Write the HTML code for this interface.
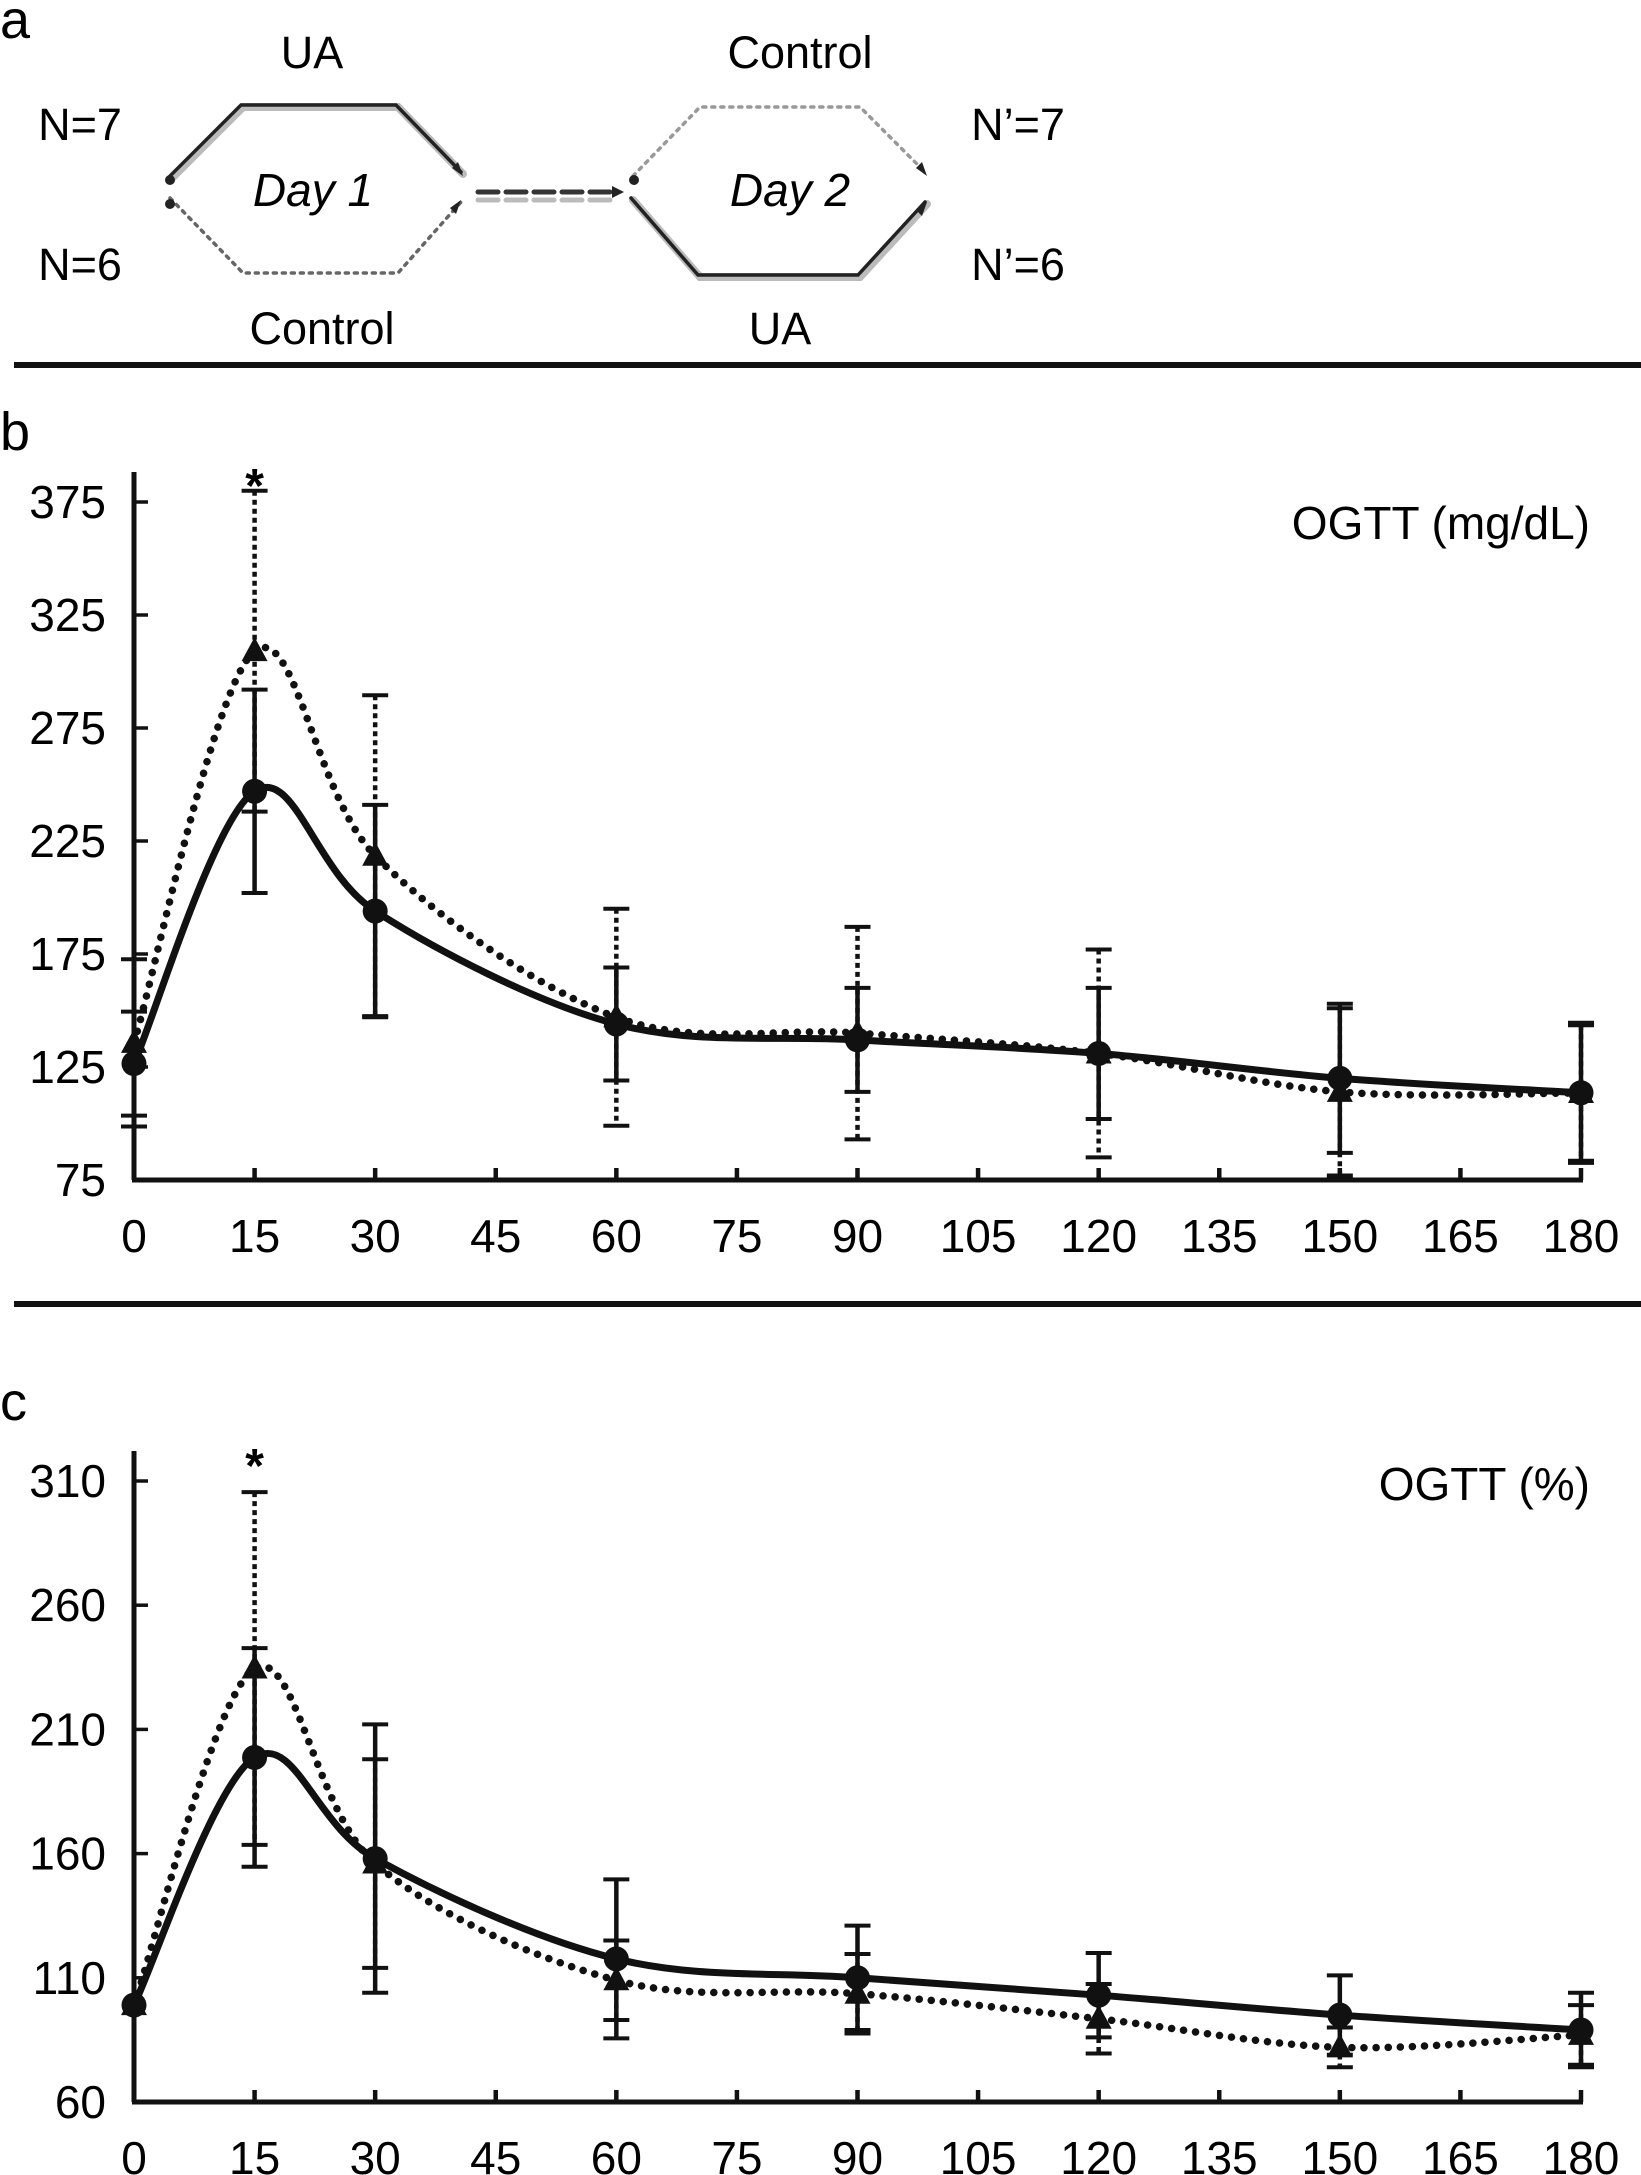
<!DOCTYPE html>
<html><head><meta charset="utf-8"><style>
body{margin:0;background:#fff;}
svg{display:block;font-family:"Liberation Sans",sans-serif;}
</style></head><body>
<svg width="1641" height="2175" viewBox="0 0 1641 2175">
<g>
<text x="0" y="38" font-size="54">a</text>
<text x="312" y="68" font-size="45" text-anchor="middle">UA</text>
<text x="800" y="68" font-size="45" text-anchor="middle">Control</text>
<text x="322" y="344" font-size="45" text-anchor="middle">Control</text>
<text x="780" y="344" font-size="45" text-anchor="middle">UA</text>
<text x="80" y="140" font-size="45" text-anchor="middle">N=7</text>
<text x="80" y="280" font-size="45" text-anchor="middle">N=6</text>
<text x="1018" y="140" font-size="45" text-anchor="middle">N’=7</text>
<text x="1018" y="280" font-size="45" text-anchor="middle">N’=6</text>
<text x="313" y="206" font-size="46" font-style="italic" text-anchor="middle">Day 1</text>
<text x="790" y="206" font-size="46" font-style="italic" text-anchor="middle">Day 2</text>
<g fill="none" stroke-linecap="round">
<polyline points="172,178 243,107 398,107 463,174" stroke="#bbb" stroke-width="8"/>
<polyline points="170,176 241,105 396,105 461,172" stroke="#222" stroke-width="3.5"/>
<polyline points="170,198 243,273 398,273 461,202" stroke="#666" stroke-width="3.5" stroke-dasharray="3 6"/>
<line x1="478" y1="192" x2="618" y2="192" stroke="#333" stroke-width="5" stroke-dasharray="20 8"/>
<line x1="478" y1="200" x2="618" y2="200" stroke="#bbb" stroke-width="5" stroke-dasharray="20 8"/>
<polyline points="633,176 700,107 860,107 927,174" stroke="#999" stroke-width="3.5" stroke-dasharray="3 6"/>
<polyline points="633,200 700,277 860,277 927,204" stroke="#bbb" stroke-width="8"/>
<polyline points="631,198 698,275 858,275 925,202" stroke="#222" stroke-width="3.5"/>
</g>
<g fill="#222">
<polygon points="463,176 452,168 458,162"/>
<polygon points="461,200 450,208 456,214"/>
<polygon points="624,192 612,186 612,198"/>
<polygon points="927,176 916,168 922,162"/>
<polygon points="927,202 916,210 922,216"/>
<circle cx="170" cy="180" r="5"/>
<circle cx="170" cy="204" r="5"/>
<circle cx="634" cy="180" r="5"/>
</g>
</g>
<rect x="14" y="362" width="1627" height="6" fill="#111"/>
<rect x="14" y="1301" width="1627" height="6" fill="#111"/>
<text x="0" y="450" font-size="54">b</text>
<text x="0" y="1420" font-size="54">c</text>
<g id="chartB"></g>
<g id="chartC"></g>
</svg>
<script>
const times = [0,15,30,60,90,120,150,180];
const xTicks = [0,15,30,45,60,75,90,105,120,135,150,165,180];
const bYTicks = [75,125,175,225,275,325,375];
const bSolid = [126.5,247,194,144,137,131,120,113.6];
const bSolidErr = [23,45,47,25,23,29,33,31];
const bDotted = [135.7,309,218.5,147,140,131,114,113.5];
const bDottedErr = [37,71,71,48,47,46,37,30];
const cYTicks = [60,110,160,210,260,310];
const cSolid = [99,198.7,158,117.6,110,103,95,89];
const cSolidErr = [0,44,54,32,21,17,16,15];
const cDotted = [99,234.5,156,109,103.6,93.5,82,87];
const cDottedErr = [0,71,42,16,16,14,8,12];

const NS='http://www.w3.org/2000/svg';
function mk(tag,attrs,parent){const e=document.createElementNS(NS,tag);for(const k in attrs)e.setAttribute(k,attrs[k]);parent.appendChild(e);return e;}
function spline(pts){let d='M'+pts[0][0]+','+pts[0][1];for(let i=0;i<pts.length-1;i++){const p0=pts[i-1]||pts[i],p1=pts[i],p2=pts[i+1],p3=pts[i+2]||p2;const c1x=p1[0]+(p2[0]-p0[0])/6,c1y=p1[1]+(p2[1]-p0[1])/6,c2x=p2[0]-(p3[0]-p1[0])/6,c2y=p2[1]-(p3[1]-p1[1])/6;d+=' C'+c1x+','+c1y+' '+c2x+','+c2y+' '+p2[0]+','+p2[1];}return d;}

function chart(g,cfg){
  const x0=134,x1=1581,yb=cfg.yb,yt=cfg.yt;
  const ymin=cfg.yticks[0],ymax=cfg.yticks[cfg.yticks.length-1];
  const X=t=>x0+(t-0)/(180)*(x1-x0);
  const Y=v=>yb-(v-ymin)/(ymax-ymin)*(yb-yt);
  let e;
  e=mk('line',{x1:x0,y1:yt-30,x2:x0,y2:yb,stroke:'#111','stroke-width':5},g);
  
  
  e=mk('line',{x1:x0-2,y1:yb,x2:x1+2,y2:yb,stroke:'#111','stroke-width':5},g);
  
  
  cfg.yticks.forEach(v=>{
    e=mk('line',{x1:x0,y1:Y(v),x2:x0+14,y2:Y(v),stroke:'#111','stroke-width':3.5},g);
    
    
    e=mk('text',{x:106,y:Y(v)+16,'font-size':46,'text-anchor':'end'},g);e.textContent=v;
    
    
  });
  xTicks.forEach(t=>{
    e=mk('line',{x1:X(t),y1:yb,x2:X(t),y2:yb-12,stroke:'#111','stroke-width':4.5},g);
    
    
    e=mk('text',{x:X(t),y:cfg.xl,'font-size':46,'text-anchor':'middle'},g);e.textContent=t;
    
    
  });
  e=mk('text',{x:1590,y:cfg.ty,'font-size':46,'text-anchor':'end'},g);e.textContent=cfg.title;
  
  
  [[cfg.dotted,cfg.dErr,'5 4'],[cfg.solid,cfg.sErr,null]].forEach(([vals,errs,dash],si)=>{
    vals.forEach((v,i)=>{
      if(!errs[i])return;
      const x=X(times[i]),a=Y(v+errs[i]),b=Y(v-errs[i]);
      const at={x1:x,y1:a,x2:x,y2:b,stroke:'#111','stroke-width':4.5};
      if(dash)at['stroke-dasharray']=dash;
      e=mk('line',at,g);
      
      
      [a,b].forEach(y=>{e=mk('line',{x1:x-13,y1:y,x2:x+13,y2:y,stroke:'#111','stroke-width':4},g);
        
        });
    });
  });
  e=mk('path',{d:spline(cfg.dotted.map((v,i)=>[X(times[i]),Y(v)])),fill:'none',stroke:'#111','stroke-width':7.5,'stroke-dasharray':'0.1 12','stroke-linecap':'round'},g);
  
  
  e=mk('path',{d:spline(cfg.solid.map((v,i)=>[X(times[i]),Y(v)])),fill:'none',stroke:'#111','stroke-width':7},g);
  
  
  cfg.dotted.forEach((v,i)=>{const x=X(times[i]),y=Y(v);
    e=mk('polygon',{points:(x)+','+(y-14)+' '+(x-13)+','+(y+10)+' '+(x+13)+','+(y+10),fill:'#111'},g);
    
    });
  cfg.solid.forEach((v,i)=>{
    e=mk('circle',{cx:X(times[i]),cy:Y(v),r:12.5,fill:'#111'},g);
    
    });
  e=mk('text',{x:X(15),y:cfg.star,'font-size':48,'text-anchor':'middle','font-weight':'bold'},g);e.textContent='*';
  
  
}
chart(document.getElementById('chartB'),{yb:1180,yt:502,yticks:bYTicks,xl:1252,ty:539,title:'OGTT (mg/dL)',solid:bSolid,sErr:bSolidErr,dotted:bDotted,dErr:bDottedErr,star:502});
chart(document.getElementById('chartC'),{yb:2102,yt:1481,yticks:cYTicks,xl:2174,ty:1500,title:'OGTT (%)',solid:cSolid,sErr:cSolidErr,dotted:cDotted,dErr:cDottedErr,star:1482});
</script>
</body></html>
